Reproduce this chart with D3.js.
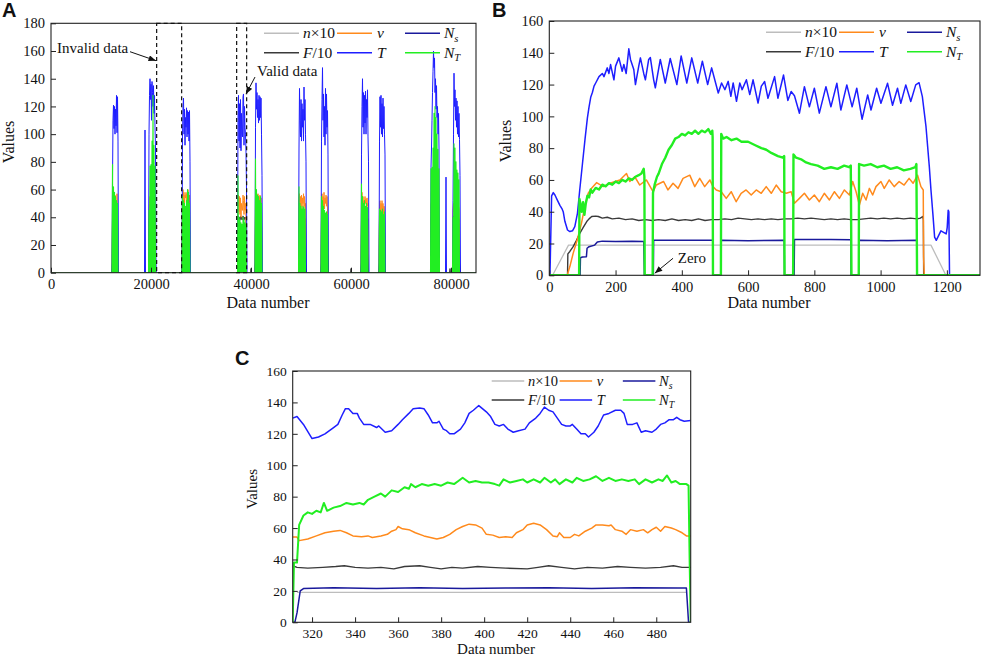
<!DOCTYPE html>
<html>
<head>
<meta charset="utf-8">
<script src="https://cdn.jsdelivr.net/npm/d3@7"></script>
<style>
  body { margin: 0; background: #fff; }
  svg text { font-family: "Liberation Serif", "Times New Roman", Tinos, "DejaVu Serif", serif; }
</style>
</head>
<body>
<svg id="chart" width="982" height="659"></svg>
<script>
// ---------- tick labels ----------
const aXTicks = [0, 20000, 40000, 60000, 80000];
const aYTicks = [0, 20, 40, 60, 80, 100, 120, 140, 160, 180];
const bXTicks = [0, 200, 400, 600, 800, 1000, 1200];
const bYTicks = [0, 20, 40, 60, 80, 100, 120, 140, 160];
const cXTicks = [320, 340, 360, 380, 400, 420, 440, 460, 480];
const cYTicks = [0, 20, 40, 60, 80, 100, 120, 140, 160];

// ---------- panel A: [start, step, values] per burst ----------
const aT = [
  [12200, 100, [0,66,110,121,104,120,100,118,106,128,101,127,95,0]],
  [18700, 100, [0,103,0]],
  [19500, 100, [0,100,128,140,125,136,110,138,130,120,135,115,128,105,90,0]],
  [26200, 100, [0,98,120,126,100,118,92,112,105,119,98,117,100,116,95,117,80,0]],
  [37300, 100, [0,110,128,95,122,90,125,88,115,100,98,127,129,92,120,105,100,87,60,0]],
  [40800, 100, [0,105,137,118,130,112,125,108,128,110,127,112,126,100,70,0]],
  [49500, 100, [0,90,133,110,98,125,95,122,105,118,95,134,110,125,100,80,0]],
  [54000, 100, [0,95,125,148,110,129,98,120,92,133,100,129,105,117,85,0]],
  [62000, 100, [0,85,120,140,105,130,100,128,108,131,100,125,112,132,98,80,0]],
  [65600, 100, [0,95,127,105,128,100,122,98,126,104,120,100,85,0]],
  [75900, 100, [0,76,90,110,130,145,160,148,155,130,140,118,135,112,120,100,115,90,0]],
  [78900, 100, [0,69,0]],
  [80300, 100, [0,52,100,144,120,132,110,126,105,124,100,120,98,115,96,70,0]]
];
const aNT = [
  [0, 85000, [0,0]],
  [12200, 100, [0,78,0,62,0,58,0,55,0,52,0,50,0,0]],
  [19500, 100, [0,45,0,77,0,78,0,95,0,128,0,92,0,77,0,0]],
  [26200, 100, [0,55,0,52,0,50,0,48,0,52,0,60,0,58,0,50,0,0]],
  [37300, 100, [0,70,0,40,0,38,0,36,0,35,0,40,0,38,0,36,0,35,0,0]],
  [40800, 100, [0,82,0,60,0,56,0,55,0,52,0,55,0,50,0,0]],
  [49500, 100, [0,62,0,50,0,48,0,46,0,48,0,47,0,46,0,0,0]],
  [54000, 100, [0,55,0,52,0,48,0,45,0,43,0,44,0,42,0,0]],
  [62000, 100, [0,64,0,55,0,50,0,52,0,48,0,50,0,47,0,0,0]],
  [65600, 100, [0,46,0,45,0,44,0,46,0,42,0,44,0,0]],
  [75900, 100, [0,75,0,76,0,90,0,115,0,120,0,112,0,100,0,89,0,75,0]],
  [80300, 100, [0,40,0,93,0,90,0,80,0,74,0,72,0,67,0,0,0]]
];
const aV = [
  [12200, 100, [0,45,55,42,57,40,56,45,52,40,57,42,0,0]],
  [19500, 100, [0,40,50,55,45,58,48,56,46,55,50,57,48,45,0,0]],
  [26200, 100, [0,55,60,52,58,50,56,54,58,50,57,52,60,55,50,56,0,0]],
  [37300, 100, [0,50,56,44,55,42,54,40,50,46,45,56,52,42,55,45,50,40,0,0]],
  [40800, 100, [0,55,58,48,56,50,57,48,55,52,56,50,54,48,0,0]],
  [49500, 100, [0,52,57,46,55,48,56,46,54,50,57,47,55,48,50,0,0]],
  [54000, 100, [0,50,57,46,55,48,58,46,54,50,56,48,55,46,0,0]],
  [62000, 100, [0,52,58,48,55,46,52,48,55,50,53,46,54,48,50,0,0]],
  [65600, 100, [0,48,52,42,50,40,52,44,50,42,48,44,0,0]],
  [75900, 100, [0,48,52,46,55,50,52,48,54,50,52,46,54,50,48,46,50,0,0]],
  [80300, 100, [0,45,50,44,52,46,50,44,52,46,50,44,48,46,0,0,0]]
];
const aF = [
  [12200, 100, [0,38,42,38,41,37,42,38,40,39,41,38,0,0]],
  [19500, 100, [0,36,40,38,41,39,40,38,41,39,40,38,39,37,0,0]],
  [26200, 100, [0,45,48,46,47,45,48,46,47,46,48,45,47,46,47,45,0,0]],
  [37300, 100, [0,38,41,39,40,38,41,39,40,38,39,41,40,38,40,39,40,38,0,0]],
  [39900, 100, [0,3,0]],
  [40800, 100, [0,40,42,40,41,39,42,40,41,39,42,40,41,38,0,0]],
  [49500, 100, [0,38,41,39,40,38,41,39,40,38,41,39,40,38,39,0,0]],
  [54000, 100, [0,38,41,39,40,38,41,39,40,38,41,39,40,38,0,0]],
  [59900, 100, [0,3,0]],
  [62000, 100, [0,38,41,39,40,38,41,39,40,38,41,39,40,38,39,0,0]],
  [65600, 100, [0,38,41,39,40,38,41,39,40,38,40,39,0,0]],
  [75900, 100, [0,38,41,39,40,38,41,39,40,38,41,39,40,38,39,40,38,0,0]],
  [79700, 100, [0,3,0]],
  [80300, 100, [0,38,41,39,40,38,41,39,40,38,41,39,40,38,0,0,0]]
];
const aNs = [
  [12200, 300, [0,21,21,21,0]], [19500, 300, [0,21,21,21,21,0]], [26200, 300, [0,22,22,22,22,0]],
  [37300, 300, [0,21,21,21,21,0]], [40800, 300, [0,21,21,21,0]], [49500, 300, [0,21,21,21,21,0]],
  [54000, 300, [0,21,21,21,21,0]], [62000, 300, [0,21,21,21,21,0]], [65600, 300, [0,21,21,21,0]],
  [75900, 300, [0,21,21,21,21,21,0]], [80300, 300, [0,21,21,21,21,0]]
];
const aN = [
  [12200, 300, [0,19,19,19,0]], [19500, 300, [0,19,19,19,19,0]], [26200, 300, [0,19,19,19,19,0]],
  [37300, 300, [0,19,19,19,19,0]], [40800, 300, [0,19,19,19,0]], [49500, 300, [0,19,19,19,19,0]],
  [54000, 300, [0,19,19,19,19,0]], [62000, 300, [0,19,19,19,19,0]], [65600, 300, [0,19,19,19,0]],
  [75900, 300, [0,19,19,19,19,19,0]], [80300, 300, [0,19,19,19,19,0]]
];

// ---------- panel B: [data number, value] ----------
const bN = [[0,0],[10,0],[58,19],[1152,19],[1197,0],[1300,0]];
const bF = [[0,0],[55,0],[56,13.5],[62,15],[72,18],[82,22],[92,26.4],[102,30],[113,33.8],[120,35.5],[128,37],
  [140,37.2],[148,37],[160,36],[175,36.5],[190,35.5],[210,36],[230,35],[250,35.5],[270,34.5],[290,35],[310,34.5],
  [330,35],[350,34.5],[370,35.5],[390,34.5],[410,35],[430,34.5],[450,35.5],[470,34.5],[490,35],[510,35],[530,35.5],
  [550,35],[570,36],[590,35.5],[610,35],[630,35.5],[650,35],[670,35.5],[690,35],[710,35.5],[730,35.5],[750,36],
  [770,35.5],[790,36],[810,35.5],[830,35],[850,35.5],[870,35],[890,35.5],[910,35],[930,35],[950,35.5],[970,36],
  [990,35.5],[1010,36],[1030,35.5],[1050,36],[1070,35.5],[1090,36],[1110,35.5],[1120,36],[1127,37],[1129,35],
  [1130,0],[1300,0]];
const bV = [[0,0],[54,0],[62,5.5],[72,13.8],[84,22],[97,32.7],[107,43],[117.5,51.6],[127.5,54.7],[142.6,58.3],
  [163,55.8],[183,57.9],[213,60],[233,64],[243,59],[258,62],[273,56.8],[293,60],[313,52.6],[323,56.8],[345,59],
  [358,53.7],[373.5,57.9],[388.6,54.7],[403.7,61],[424,63],[439,55.8],[454,61],[469,55.8],[484.6,60],[494,55.8],
  [504,53.7],[519,52.6],[534,48.4],[549,52.6],[564,46.3],[579,51.6],[594,53.7],[609.5,50.5],[624.6,53.7],
  [639.7,51.6],[654.7,55.8],[670,51.6],[685,56.8],[700,52.6],[715,51.6],[730,52.6],[740,45.3],[755,48.4],
  [770,51.6],[785,47.4],[800,50.5],[815,46.3],[830,51.6],[845.5,47.4],[860.6,52.6],[875.6,48.4],[890.7,53.7],
  [905.8,50.5],[915.8,59],[926,52.6],[936,44.2],[946,51.6],[956,47.4],[966,54.7],[976,50.5],[986,55.8],
  [1001,59],[1011,54.7],[1026,60],[1041,55.8],[1056,59],[1071,56.8],[1086,61],[1098,57.9],[1111.6,63],
  [1121.7,55.8],[1128.7,53.7],[1129.7,11.7],[1131.7,0],[1300,0]];
const bT = [[0,0],[2,0],[7,50],[12,52],[17,50.5],[25,47],[32,44],[38,42],[42,40],[47,34],[55,28.5],[62,27.5],
  [70,28],[77,30.6],[85,39],[92,54],[100,70],[108,86],[115,99],[120,106],[125,112],[130,115],[135,119],
  [140,121],[150,125],[160,127],[165,125],[175,130.5],[180,127],[185,132.6],[195,123],[200,131.6],[210,136.8],
  [220,128.4],[225,132.6],[232,127],[240,142.5],[245,135.8],[255,129.5],[260,120],[270,131.6],[275,136.8],
  [285,127],[290,123],[300,135.8],[305,137],[315,123],[320,118],[335,135.8],[350,121],[365,136.4],[385,120],
  [398,138],[415,121],[430,136.8],[448,121],[462,134.7],[478,120],[490,130.5],[502,121],[510,114.7],[520,121],
  [530,116.8],[540,122],[548,112.6],[555,121],[565,109.5],[575,121],[582,116.8],[595,123],[605,113.7],[615,123],
  [630,108.4],[640,119],[650,121.9],[660,111.4],[680,125],[690,111.4],[707,126],[720,110],[730,115.6],[740,113],
  [755,102],[770,118.7],[785,106],[800,117.7],[815,102],[835,118.7],[850,106],[868,120.8],[880,104],[898,119.8],
  [914,106],[928,117.7],[944,98.2],[961,113.5],[971,104],[988,117.7],[1001,108.2],[1021,120.8],[1036,107],
  [1051,117.7],[1061,108.2],[1076,119.8],[1091,109.3],[1106,119.8],[1116,121.2],[1126,112.4],[1137,93.5],
  [1147,68.4],[1152,53.7],[1158,38],[1163,24],[1168,22],[1175,25],[1182,28],[1190,27],[1198,26],[1201,30],
  [1204,41],[1206,40],[1208,0]];
const bNs = [[0,0],[93,0],[94,11],[100,11.5],[112,11.7],[114,17],[120,18],[137,19],[145,21],[160,21.5],[200,21.3],
  [250,21.5],[285,21.3],[287,0],[314,0],[315,22],[400,22],[494,22],[495,0],[518,0],[519,22],[600,21.8],[709,22],
  [710,0],[739,0],[740,22.5],[850,22.5],[910,22.3],[911,0],[934,0],[935,22],[1020,21.8],[1109,22],[1110,0],[1300,0]];
const bNT = [[0,0],[90,0],[91,48],[95,44],[98,40],[102,46],[106,38],[110,45],[115,50],[120,49],[125,54],[130,52],
  [140,55],[150,54],[160,57],[170,56],[180,58],[190,57],[200,59],[210,58],[220,60],[230,59],[240,61],[250,60],
  [260,62],[270,63],[278,64],[285,67],[287,62],[288,0],[312,0],[313,52],[318,57],[325,62],[330,64],[340,70],
  [350,74],[360,79],[370,82],[380,86],[390,87],[400,89],[410,88],[420,90],[430,89],[440,91],[450,89],[460,91],
  [470,90],[480,92],[488,89],[492,91],[493,87],[494,0],[518,0],[519,89],[525,86],[535,87],[550,85],[565,86],
  [580,84],[600,84],[620,82],[640,80],[655,79],[670,77],[690,75],[705,74],[709,75],[710,0],[736,0],[737,76],
  [745,74],[760,73],[775,71],[790,70],[810,69],[830,67],[850,68],[870,67],[890,69],[905,68],[910,69],[912,0],
  [934,0],[935,70],[950,69],[970,70],[990,68],[1010,69],[1030,67],[1050,68],[1070,66],[1090,67],[1105,68],
  [1108,70],[1110,0],[1300,0]];

// ---------- panel C: [data number, value] ----------
const cN = [[313,19],[494,19]];
const cF = [[311,36],[313,35],[318,34.5],[325,35],[331,35.5],[335,36],[340,35],[346,34.5],[352,35],[358,34],
  [363,35.5],[370,36],[375,35],[380,34],[385,35],[390,34.5],[397,35.5],[403,35],[410,34.5],[420,34],[425,35],
  [430,36],[436,35],[442,34],[448,35],[455,34.5],[462,35.5],[468,35],[475,34.5],[482,35],[488,36],[492,35],[496,35]];
const cV = [[311,54.3],[313,54.3],[314,52],[318,53],[322,55],[326,57],[330,58],[333,58.5],[336,57],[339,55],
  [343,54.5],[346,55],[348,54],[352,55],[355,56],[357,58],[359,59],[360,61],[362,59.5],[365,59],[368,57],[372,55],
  [375,54],[378,53],[381,54],[384,56],[387,59],[390,61],[393,62.5],[396,62],[399,60],[401,56],[404,55.5],[407,54],
  [410,54.5],[413,54],[415,57],[418,59],[420,62],[423,63],[426,62],[429,59],[432,55],[434,54.5],[435,57],[437,54],
  [440,54],[442,56],[444,55],[447,58],[450,60],[452,62],[455,62],[458,61.5],[459,62],[461,59],[464,58],[466,56],
  [468,59],[471,58],[474,59],[476,57],[478,59],[480,60.5],[482,58],[484,61],[487,60],[489,59],[492,57],[494,55],[496,55]];
const cT = [[311,130],[313,131],[316,126],[320,117],[323,118],[326,120],[330,124],[332,126],[334,132],[335.5,136],
  [337,136],[339,133],[341,133],[342,130],[344,126],[347,126],[350,124],[351,125],[354,121],[357,122],[360,126],
  [362,129],[365,133],[367,136],[370,136.5],[372,136],[374,132],[376,127],[378,127],[379,128],[381,123],[382.5,122],
  [384,120],[386,120],[389,123],[391,127],[393,133],[395,135],[397.5,138],[401,134],[403,131],[405,126],[407,125],
  [409,126],[411,123],[413.5,121],[416,122],[419,123],[421,127],[424,130],[426,133],[428,137],[430,135],[432,134],
  [434,130],[436,126],[438,125],[440,125],[441,126],[443,123],[445,120],[447,120],[448.5,118],[451,121],[453,125],
  [455.5,132],[458,133],[461,135],[463.5,135],[465,133],[466.5,126],[469,126],[471,127],[473,121],[475,122],
  [478,121],[480,123],[482,126],[484,127],[486,129],[488,129],[489.5,130.5],[491,129],[493,128],[496,128.5]];
const cNs = [[311,0],[312,0],[313,6],[314.5,20],[316,21.5],[330,22],[350,21.5],[370,22],[390,21.5],[410,21.8],
  [430,22],[450,21.5],[470,22],[490,21.8],[494,21.8],[495,0],[496,0]];
const cNT = [[311,0],[311.6,38],[313,38],[314,62],[316,68],[318,70],[320,69],[322,71],[324,70],[325.5,76],[327,71],
  [330,73],[333,74],[336,76],[339,75],[342,76],[344,75],[346,78],[349,80],[352,82],[354,80],[357,84],[360,83],
  [363,86],[365,85],[366,88],[368,86],[371,88],[374,87],[377,88],[380,87],[383,89],[386,88],[388,90],[390,92],
  [393,89],[396,90],[399,89],[402,89],[405,88],[407,87],[409,91],[412,89],[415,90],[418,91],[420,89],[423,91],
  [426,89],[428,92],[431,89],[433,91],[435,88],[438,91],[441,89],[443,92],[446,90],[449,91],[452,93],[455,90],
  [458,92],[461,90],[464,91],[467,90],[470,91],[472,88],[475,91],[478,89],[481,91],[483,90],[485,93.5],[487,89],
  [489,90],[491,88],[494,88],[495,87],[495.5,40],[496,0]];

// ---------- styles ----------
const serif = '"Liberation Serif", "Times New Roman", Tinos, "DejaVu Serif", serif';
const colors = { n: '#bdbdbd', F: '#3a3a3a', v: '#ff8a1c', T: '#1e1eff', Ns: '#1a1a9c', NT: '#22ee22' };
const drawOrder = ['n', 'F', 'v', 'T', 'Ns', 'NT'];
const legendRows = [['n', 'v', 'Ns'], ['F', 'T', 'NT']];
const legendLabels = {
  n: [['n', 'i'], ['×10', 'r']], v: [['v', 'i']], Ns: [['N', 'i'], ['s', 's']],
  F: [['F', 'i'], ['/10', 'r']], T: [['T', 'i']], NT: [['N', 'i'], ['T', 's']]
};

function toPairs(segs) {
  return segs.map(([start, step, vals]) => vals.map((v, i) => [start + i * step, v]));
}

const svg = d3.select('#chart');
svg.append('defs').append('marker')
  .attr('id', 'arrow')
  .attr('viewBox', '0 -4 10 8')
  .attr('refX', 10).attr('refY', 0)
  .attr('markerUnits', 'userSpaceOnUse')
  .attr('markerWidth', 8).attr('markerHeight', 6)
  .attr('orient', 'auto')
  .append('path').attr('d', 'M0,-4L10,0L0,4Z').attr('fill', '#111');

const panels = [
  {
    id: 'A', left: 51, right: 476, top: 23.3, bottom: 272.7,
    xDomain: [0, 85000], yDomain: [0, 180], xTicks: aXTicks, yTicks: aYTicks,
    series: { n: toPairs(aN), F: toPairs(aF), v: toPairs(aV), T: toPairs(aT), Ns: toPairs(aNs), NT: toPairs(aNT) },
    widths: { n: 1, F: 1, v: 1, T: 1, Ns: 1, NT: 1.1 },
    letter: [2, 17], yTitle: [14, 142], xTitle: [268, 308],
    legend: { x: 264, rows: [33.3, 52.7], k: 1, font: 15.5 },
    tickFont: 14.5, titleFont: 16
  },
  {
    id: 'B', left: 549.3, right: 980, top: 21, bottom: 275.3,
    xDomain: [0, 1300], yDomain: [0, 160], xTicks: bXTicks, yTicks: bYTicks,
    series: { n: [bN], F: [bF], v: [bV], T: [bT], Ns: [bNs], NT: [bNT] },
    widths: { n: 1.3, F: 1.4, v: 1.5, T: 1.5, Ns: 1.5, NT: 2.4 },
    letter: [492, 17], yTitle: [511, 141], xTitle: [769, 308],
    legend: { x: 766, rows: [32.3, 51.7], k: 1, font: 15.5 },
    tickFont: 14.5, titleFont: 16
  },
  {
    id: 'C', left: 292.7, right: 690.7, top: 371, bottom: 622.3,
    xDomain: [311, 496], yDomain: [0, 160], xTicks: cXTicks, yTicks: cYTicks,
    series: { n: [cN], F: [cF], v: [cV], T: [cT], Ns: [cNs], NT: [cNT] },
    widths: { n: 1.3, F: 1.4, v: 1.5, T: 1.5, Ns: 1.5, NT: 2 },
    letter: [235, 365], yTitle: [257, 489], xTitle: [496, 654],
    legend: { x: 491.7, rows: [381, 400], k: 0.93, font: 14.5 },
    tickFont: 13.5, titleFont: 15
  }
];

panels.forEach(p => {
  const g = svg.append('g');
  const x = d3.scaleLinear().domain(p.xDomain).range([p.left, p.right]);
  const y = d3.scaleLinear().domain(p.yDomain).range([p.bottom, p.top]);

  const clipId = 'clip' + p.id;
  g.append('clipPath').attr('id', clipId).append('rect')
    .attr('x', p.left).attr('y', p.top - 1)
    .attr('width', p.right - p.left).attr('height', p.bottom - p.top + 1);

  const line = d3.line().x(d => x(d[0])).y(d => y(d[1]));
  const plot = g.append('g').attr('clip-path', `url(#${clipId})`);
  drawOrder.forEach(key => {
    p.series[key].forEach(pts => {
      plot.append('path').datum(pts)
        .attr('d', line)
        .attr('fill', 'none')
        .attr('stroke', colors[key])
        .attr('stroke-width', p.widths[key])
        .attr('stroke-linejoin', 'round');
    });
  });

  // axes, ticks pointing inward
  const xAxis = g.append('g').attr('transform', `translate(0,${p.bottom})`)
    .call(d3.axisBottom(x).tickValues(p.xTicks).tickFormat(d3.format('d'))
      .tickSizeInner(-5).tickSizeOuter(0).tickPadding(6));
  const yAxis = g.append('g').attr('transform', `translate(${p.left},0)`)
    .call(d3.axisLeft(y).tickValues(p.yTicks).tickFormat(d3.format('d'))
      .tickSizeInner(-5).tickSizeOuter(0).tickPadding(6));
  [xAxis, yAxis].forEach(a => {
    a.attr('font-family', null).attr('font-size', null);
    a.select('.domain').remove();
    a.selectAll('.tick line').attr('stroke', '#222');
    a.selectAll('.tick text').style('font-family', serif)
      .attr('font-size', p.tickFont).attr('fill', '#111');
  });

  g.append('rect')
    .attr('x', p.left).attr('y', p.top)
    .attr('width', p.right - p.left).attr('height', p.bottom - p.top)
    .attr('fill', 'none').attr('stroke', '#222').attr('stroke-width', 1.1);

  // titles
  g.append('text').attr('x', p.xTitle[0]).attr('y', p.xTitle[1])
    .attr('text-anchor', 'middle').attr('font-size', p.titleFont).attr('fill', '#111')
    .style('font-family', serif)
    .text('Data number');
  g.append('text')
    .attr('transform', `translate(${p.yTitle[0]},${p.yTitle[1]}) rotate(-90)`)
    .attr('text-anchor', 'middle').attr('font-size', p.titleFont).attr('fill', '#111')
    .style('font-family', serif)
    .text('Values');
  g.append('text').attr('x', p.letter[0]).attr('y', p.letter[1])
    .style('font-family', '"Liberation Sans", Arial, sans-serif')
    .attr('font-weight', 'bold').attr('font-size', 20).attr('fill', '#111')
    .text(p.id);

  // legend
  const L = p.legend, k = L.k;
  const lineStart = [0, 73, 141], lineLen = 35, textStart = [39, 113, 180];
  legendRows.forEach((row, ri) => {
    row.forEach((key, ci) => {
      const ly = L.rows[ri];
      g.append('line')
        .attr('x1', L.x + lineStart[ci] * k).attr('x2', L.x + (lineStart[ci] + lineLen) * k)
        .attr('y1', ly).attr('y2', ly)
        .attr('stroke', colors[key]).attr('stroke-width', 1.6);
      const t = g.append('text')
        .attr('x', L.x + textStart[ci] * k).attr('y', ly + 5)
        .attr('font-size', L.font).attr('fill', '#111')
        .style('font-family', serif);
      legendLabels[key].forEach(([s, style]) => {
        const ts = t.append('tspan').text(s);
        if (style === 'i') ts.attr('font-style', 'italic');
        if (style === 's') ts.attr('font-style', 'italic').attr('font-size', L.font * 0.68).attr('dy', '0.35em');
      });
    });
  });

  p.x = x; p.y = y; p.g = g;
});

// ---------- annotations ----------
const annA = panels[0], annB = panels[1];
const boxesA = [[21130, 26130], [37130, 39130]];
boxesA.forEach(([x0, x1]) => {
  annA.g.append('rect')
    .attr('x', annA.x(x0)).attr('y', annA.y(180))
    .attr('width', annA.x(x1) - annA.x(x0)).attr('height', annA.y(0) - annA.y(180))
    .attr('fill', 'none').attr('stroke', '#111').attr('stroke-width', 1.2)
    .attr('stroke-dasharray', '4,3');
});

const notes = [
  { p: annA, text: 'Invalid data', at: [1200, 158.6], from: [15800, 159.5], to: [21000, 153] },
  { p: annA, text: 'Valid data', at: [41200, 142], from: [40800, 141.2], to: [39000, 128.9] },
  { p: annB, text: 'Zero', at: [387.7, 7.7], from: [373.5, 10.7], to: [318.4, 1.3] }
];
notes.forEach(n => {
  n.p.g.append('text').attr('x', n.p.x(n.at[0])).attr('y', n.p.y(n.at[1]))
    .attr('font-size', 15).attr('fill', '#111').style('font-family', serif).text(n.text);
  n.p.g.append('line')
    .attr('x1', n.p.x(n.from[0])).attr('y1', n.p.y(n.from[1]))
    .attr('x2', n.p.x(n.to[0])).attr('y2', n.p.y(n.to[1]))
    .attr('stroke', '#111').attr('stroke-width', 1)
    .attr('marker-end', 'url(#arrow)');
});
</script>
</body>
</html>
